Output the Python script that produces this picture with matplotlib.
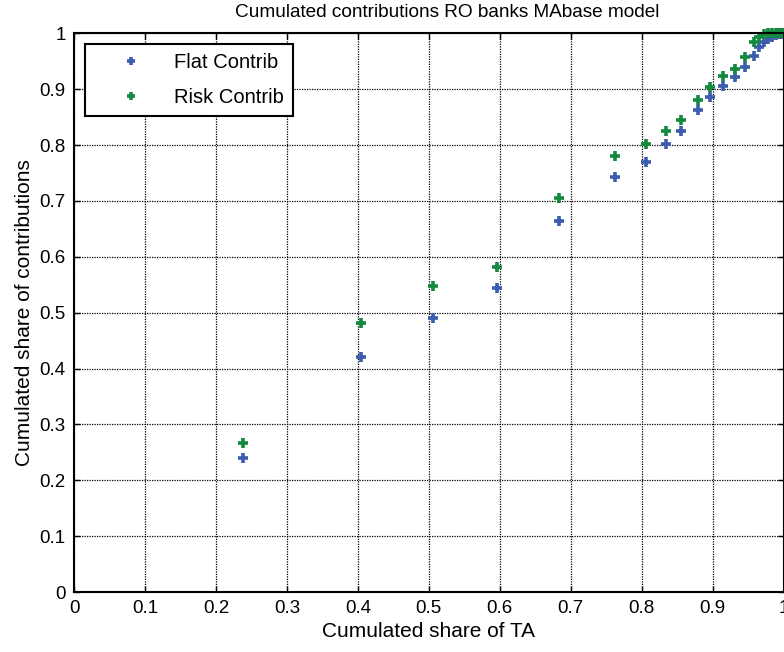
import numpy as np
import matplotlib
matplotlib.use("Agg")
import matplotlib.pyplot as plt

plt.rcParams['font.family'] = ['Liberation Sans', 'DejaVu Sans']

# cumulated share of total assets, banks sorted
share_ta = [0.238, 0.405, 0.506, 0.596, 0.684, 0.763, 0.806, 0.834, 0.856, 0.880,
            0.896, 0.914, 0.931, 0.945, 0.959, 0.966, 0.972, 0.978, 0.984, 0.989,
            0.993, 0.997, 1.0]
flat_contrib = [0.240, 0.421, 0.491, 0.544, 0.664, 0.743, 0.769, 0.801, 0.825, 0.862,
                0.886, 0.906, 0.921, 0.940, 0.960, 0.975, 0.984, 0.989, 0.993, 0.996,
                0.998, 0.999, 1.0]
risk_contrib = [0.266, 0.482, 0.547, 0.582, 0.705, 0.781, 0.801, 0.825, 0.844, 0.880,
                0.903, 0.924, 0.936, 0.957, 0.984, 0.993, 0.998, 1.0, 1.0, 1.0,
                1.0, 1.0, 1.0]
ticks = np.round(np.arange(0, 1.01, 0.1), 1)
tick_labels = ['0', '0.1', '0.2', '0.3', '0.4', '0.5', '0.6', '0.7', '0.8', '0.9', '1']

fig = plt.figure(figsize=(7.84, 6.52), dpi=100)
ax = fig.add_axes([0.0944, 0.092, 0.905, 0.857])

ax.plot(share_ta, flat_contrib, linestyle='none', marker='+', markersize=7,
        markeredgewidth=2.6, color='#3A5DAE', label='Flat Contrib', clip_on=False)
ax.plot(share_ta, risk_contrib, linestyle='none', marker='+', markersize=7,
        markeredgewidth=2.6, color='#138A3E', label='Risk Contrib', clip_on=False)

ax.set_xlim(0, 1)
ax.set_ylim(0, 1)
ax.set_xticks(ticks)
ax.set_yticks(ticks)
ax.set_xticklabels(tick_labels, fontsize=13.5)
ax.set_yticklabels(tick_labels, fontsize=13.5)
ax.tick_params(direction='in', length=4, width=1, top=True, right=True, pad=6)
ax.grid(True, color='black', linestyle=(0, (1, 1)), linewidth=0.9)
for sp in ax.spines.values():
    sp.set_linewidth(1.5)

ax.set_xlabel('Cumulated share of TA', fontsize=15, labelpad=3)
ax.set_ylabel('Cumulated share of contributions', fontsize=15, labelpad=4)
ax.set_title('Cumulated contributions RO banks MAbase model', fontsize=13.7,
             pad=12, x=0.526)

leg = ax.legend(loc='upper left', bbox_to_anchor=(0.0155, 0.981), fontsize=14.5,
                fancybox=False, framealpha=1, edgecolor='black',
                handlelength=3.7, handletextpad=0.25, borderpad=0.45,
                labelspacing=0.8, borderaxespad=0, markerscale=0.8)
leg.get_frame().set_linewidth(1.5)

fig.savefig('out.png', dpi=100)
